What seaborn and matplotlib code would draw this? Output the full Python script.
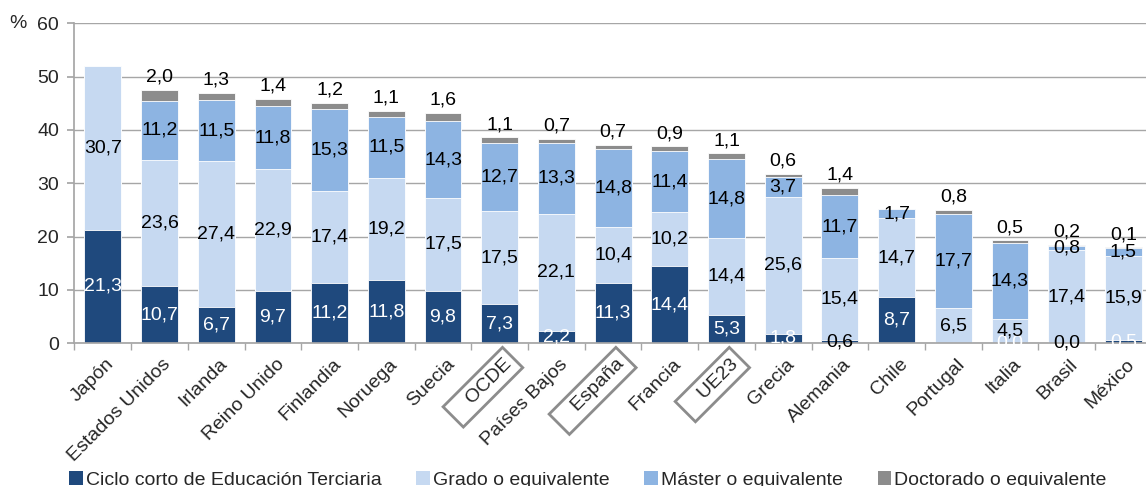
import numpy as np
import pandas as pd
import matplotlib

matplotlib.use("Agg")
import matplotlib.pyplot as plt
import matplotlib.transforms as mtransforms
from matplotlib.patches import Patch
import seaborn as sns

sns.set_theme(style="white")
plt.rcParams["font.family"] = ["Liberation Sans", "DejaVu Sans"]

# data (NaN = no value shown)
countries = ["Japón", "Estados Unidos", "Irlanda", "Reino Unido", "Finlandia",
             "Noruega", "Suecia", "OCDE", "Países Bajos", "España", "Francia",
             "UE23", "Grecia", "Alemania", "Chile", "Portugal", "Italia",
             "Brasil", "México"]
ciclo_corto = [21.3, 10.7, 6.7, 9.7, 11.2, 11.8, 9.8, 7.3, 2.2, 11.3, 14.4,
               5.3, 1.8, 0.6, 8.7, np.nan, 0.0, 0.0, 0.5]
grado = [30.7, 23.6, 27.4, 22.9, 17.4, 19.2, 17.5, 17.5, 22.1, 10.4, 10.2,
         14.4, 25.6, 15.4, 14.7, 6.5, 4.5, 17.4, 15.9]
master = [np.nan, 11.2, 11.5, 11.8, 15.3, 11.5, 14.3, 12.7, 13.3, 14.8, 11.4,
          14.8, 3.7, 11.7, 1.7, 17.7, 14.3, 0.8, 1.5]
doctorado = [np.nan, 2.0, 1.3, 1.4, 1.2, 1.1, 1.6, 1.1, 0.7, 0.7, 0.9, 1.1,
             0.6, 1.4, np.nan, 0.8, 0.5, 0.2, 0.1]

series_names = ["Ciclo corto de Educación Terciaria", "Grado o equivalente",
                "Máster o equivalente", "Doctorado o equivalente"]
colors = ["#1F497D", "#C6D9F1", "#8DB4E2", "#8C8C8C"]
boxed = ["OCDE", "España", "UE23"]
dark_short_labels = ["Alemania", "Brasil"]

df = pd.DataFrame({"pais": countries, "s0": ciclo_corto, "s1": grado,
                   "s2": master, "s3": doctorado})
vals = df[["s0", "s1", "s2", "s3"]].fillna(0).to_numpy()
cum = np.cumsum(vals, axis=1)

fig = plt.figure(figsize=(11.46, 4.86), dpi=100)
ax = fig.add_axes([0.065, 0.294, 0.94, 0.658])

# stacked bars: draw cumulative totals from top layer down
for k in range(3, -1, -1):
    sns.barplot(x=df["pais"], y=cum[:, k], color=colors[k], saturation=1,
                width=0.65, edgecolor="white", linewidth=0.6, ax=ax, zorder=2)

fs = 14
for i, name in enumerate(countries):
    raw = [ciclo_corto[i], grado[i], master[i], doctorado[i]]
    for k in range(3):
        v = raw[k]
        if np.isnan(v):
            continue
        ymid = cum[i, k] - vals[i, k] / 2
        col = "black"
        if k == 0 and name not in dark_short_labels:
            col = "white"
        ax.text(i, ymid, f"{v:.1f}".replace(".", ","), ha="center",
                va="center", fontsize=fs, color=col, zorder=3)
    if not np.isnan(raw[3]):
        ax.annotate(f"{raw[3]:.1f}".replace(".", ","), (i, cum[i, 3]),
                    xytext=(0, 3), textcoords="offset points", ha="center",
                    va="bottom", fontsize=fs, color="black", zorder=3)

ax.set_ylim(0, 60)
ax.set_xlim(-0.5, len(countries) - 0.5)
ax.set_yticks(range(0, 61, 10))
ax.yaxis.grid(True, color="#A6A6A6", linewidth=1)
ax.set_axisbelow(True)
for s in ["top", "right"]:
    ax.spines[s].set_visible(False)
ax.spines["left"].set_color("#A6A6A6")
ax.spines["bottom"].set_color("#A6A6A6")
ax.set_xlabel("")
ax.set_ylabel("")

ax.tick_params(axis="y", length=5, color="#A6A6A6", left=True, pad=6,
               labelsize=fs)
# category boundary ticks, like the original
ax.set_xticks(np.arange(-0.5, len(countries), 1), minor=True)
ax.tick_params(axis="x", which="minor", length=5, color="#A6A6A6", bottom=True)
ax.tick_params(axis="x", which="major", length=0, pad=9, labelsize=fs)
ax.set_xticks(range(len(countries)))
ax.set_xticklabels([("   " + c) if c in boxed else c for c in countries])
shift = mtransforms.ScaledTranslation(2 / 72, 0, fig.dpi_scale_trans)
for lab in ax.get_xticklabels():
    lab.set_rotation(45)
    lab.set_ha("right")
    lab.set_va("top")
    lab.set_rotation_mode("anchor")
    lab.set_transform(lab.get_transform() + shift)
    if lab.get_text().strip() in boxed:
        lab.set_bbox(dict(boxstyle="square,pad=0.3", fc="none",
                          ec="#8C8C8C", lw=2))

fig.text(0.008, 0.952, "%", fontsize=fs, ha="left", va="center")

handles = [Patch(facecolor=c, edgecolor="none") for c in colors]
fig.legend(handles, series_names, loc="center", bbox_to_anchor=(0.513, 0.012),
           ncol=4, frameon=False, fontsize=fs, handlelength=0.7,
           handleheight=0.7, handletextpad=0.15, columnspacing=1.8)

fig.savefig("out.png", dpi=100, facecolor="w")
plt.close()
